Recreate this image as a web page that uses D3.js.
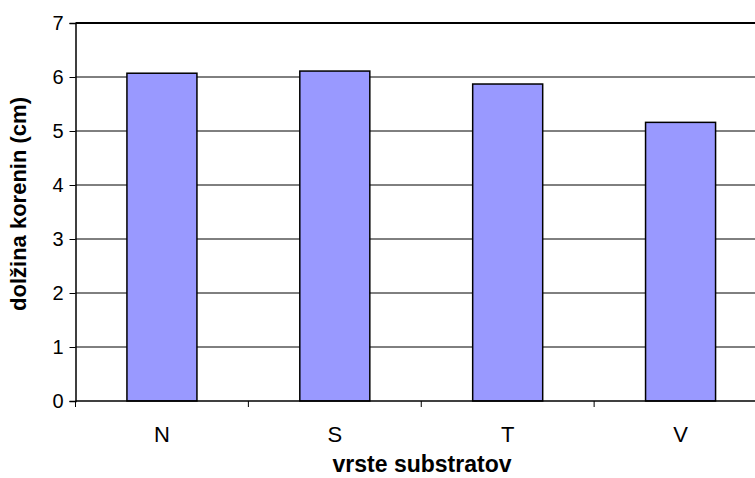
<!DOCTYPE html>
<html>
<head>
<meta charset="utf-8">
<script src="https://cdn.jsdelivr.net/npm/d3@7"></script>
<style>
  html, body { margin: 0; padding: 0; background: #fff; }
  svg { display: block; font-family: "Liberation Sans", Arial, sans-serif; }
</style>
</head>
<body>
<svg id="chart" width="755" height="478"></svg>
<script>
// Root length by substrate type
const categories = ["N", "S", "T", "V"];
const rootLength = [6.07, 6.11, 5.87, 5.16];
const yTicks = [0, 1, 2, 3, 4, 5, 6, 7];

const svg = d3.select("#chart");
const margin = { left: 75.5, top: 23, bottom: 77 };
const plotRight = 767;
const height = 478;

const x = d3.scaleBand()
  .domain(categories)
  .range([margin.left, plotRight])
  .paddingInner(0.595)
  .paddingOuter(0.2975);

const y = d3.scaleLinear()
  .domain([0, 7])
  .range([height - margin.bottom, margin.top]);

// horizontal gridlines
svg.append("g")
  .selectAll("line")
  .data(yTicks.filter(d => d > 0))
  .join("line")
  .attr("x1", margin.left)
  .attr("x2", plotRight)
  .attr("y1", d => y(d))
  .attr("y2", d => y(d))
  .attr("stroke", "#000")
  .attr("stroke-width", d => d === 7 ? 2 : 1);

// bars
svg.append("g")
  .selectAll("rect")
  .data(rootLength)
  .join("rect")
  .attr("x", (d, i) => x(categories[i]))
  .attr("width", x.bandwidth())
  .attr("y", d => y(d))
  .attr("height", d => y(0) - y(d))
  .attr("fill", "#9999ff")
  .attr("stroke", "#000")
  .attr("stroke-width", 1.5);

// y axis
const yAxis = svg.append("g")
  .attr("transform", `translate(${margin.left},0)`)
  .call(d3.axisLeft(y).tickValues(yTicks).tickSize(6).tickPadding(6).tickFormat(d3.format("d")));
yAxis.select(".domain").attr("stroke", "#000").attr("stroke-width", 1.5);
yAxis.selectAll(".tick line").attr("stroke", "#000");
yAxis.selectAll(".tick text")
  .attr("font-size", 20)
  .attr("fill", "#000")
  .attr("font-family", "Liberation Sans, Arial, sans-serif");

// x axis with boundary ticks between categories
const xAxisG = svg.append("g")
  .attr("transform", `translate(0,${y(0)})`);
xAxisG.append("line")
  .attr("x1", margin.left).attr("x2", plotRight)
  .attr("stroke", "#000").attr("stroke-width", 1.5);
const step = x.step();
const boundaries = d3.range(categories.length + 1).map(i => margin.left + i * step);
xAxisG.selectAll("line.b")
  .data(boundaries)
  .join("line")
  .attr("class", "b")
  .attr("x1", d => d).attr("x2", d => d)
  .attr("y1", 0).attr("y2", 6)
  .attr("stroke", "#000");
xAxisG.selectAll("text")
  .data(categories)
  .join("text")
  .attr("x", d => x(d) + x.bandwidth() / 2)
  .attr("y", 41)
  .attr("text-anchor", "middle")
  .attr("font-size", 22)
  .attr("fill", "#000")
  .text(d => d);

// axis titles
svg.append("text")
  .attr("x", 422)
  .attr("y", 472)
  .attr("text-anchor", "middle")
  .attr("font-size", 23)
  .attr("font-weight", "bold")
  .text("vrste substratov");

svg.append("text")
  .attr("transform", `translate(26,204) rotate(-90)`)
  .attr("text-anchor", "middle")
  .attr("font-size", 22)
  .attr("font-weight", "bold")
  .text("dolžina korenin (cm)");
</script>
</body>
</html>
